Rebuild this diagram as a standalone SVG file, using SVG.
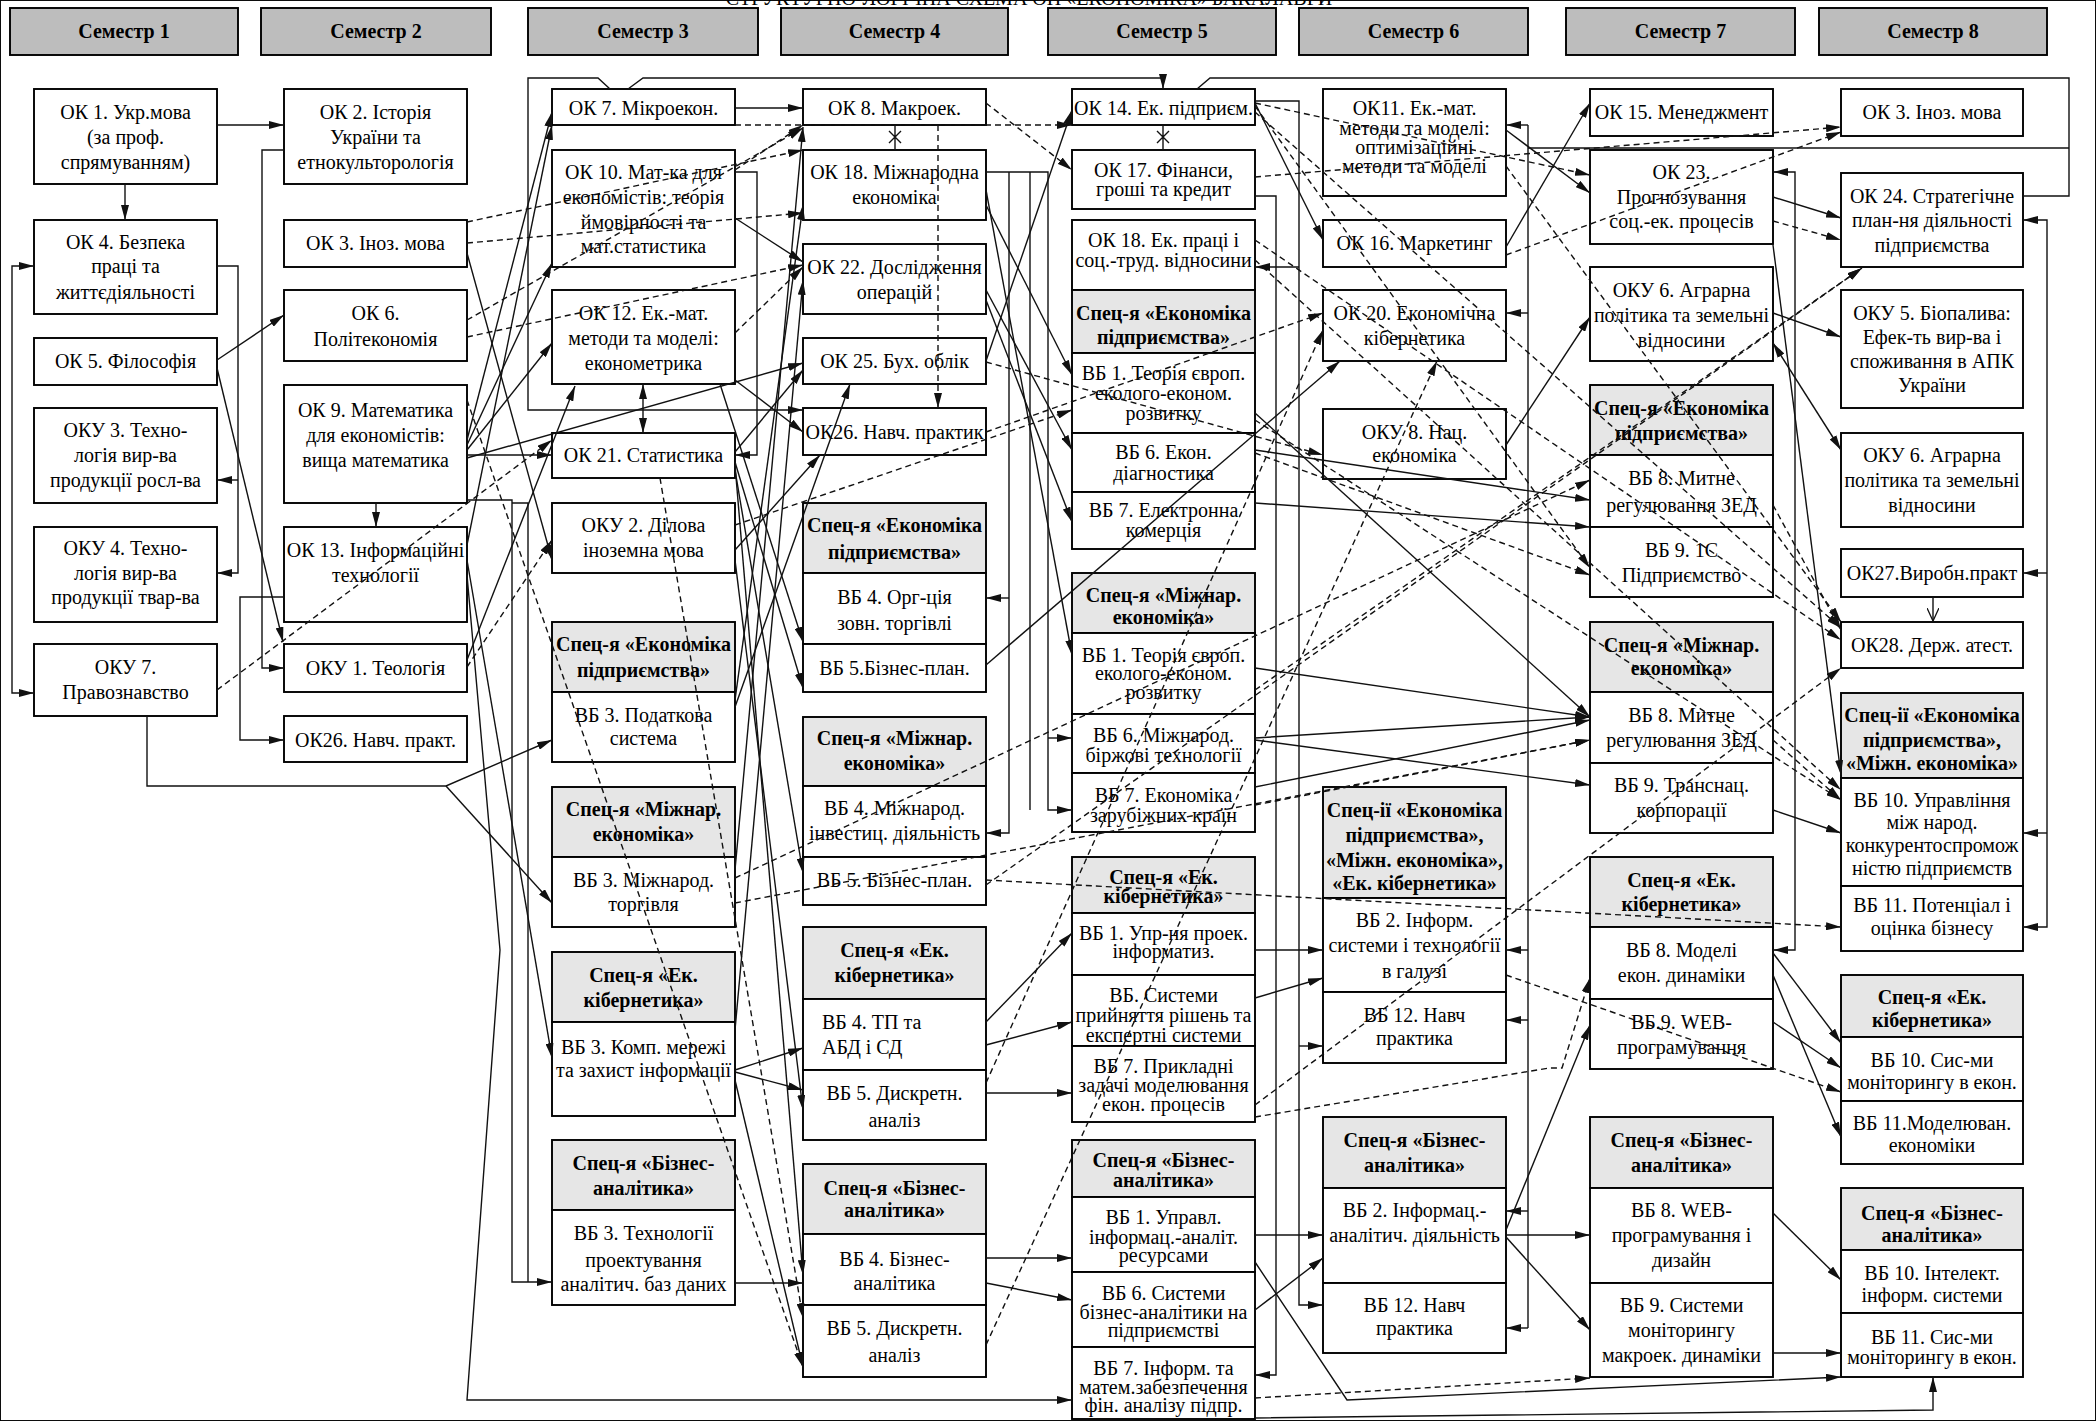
<svg xmlns="http://www.w3.org/2000/svg" width="2096" height="1421" viewBox="0 0 2096 1421" font-family="'Liberation Serif', serif">
<style>
rect{stroke:#000;stroke-width:1.9}
.hd rect{fill:#bdbdbd}
.n rect{fill:#fff}
.g rect{fill:#e6e6e6}
text{font-family:'Liberation Serif','Times New Roman',serif;font-size:20px;text-anchor:middle;dominant-baseline:central;fill:#000}
.hd text,.g text{font-weight:bold}
.c,.d,.cn,.db,.o{fill:none;stroke:#111;stroke-width:1.4}
.c,.d{marker-end:url(#a)}
.db{marker-end:url(#a);marker-start:url(#a)}
.d{stroke-dasharray:6 4}
.o{marker-end:url(#v)}
</style>
<defs>
<marker id="a" viewBox="0 0 15 8" refX="15" refY="4" markerWidth="15" markerHeight="8" markerUnits="userSpaceOnUse" orient="auto-start-reverse"><path d="M0,0 L15,4 L0,8 z" fill="#111"/></marker>
<marker id="v" viewBox="0 0 14 12" refX="13" refY="6" markerWidth="14" markerHeight="12" markerUnits="userSpaceOnUse" orient="auto"><path d="M0,0 L13,6 L0,12" fill="none" stroke="#111" stroke-width="1.3"/></marker>
</defs>
<rect x="0" y="0" width="2096" height="1421" fill="#fff" stroke="none"/>
<text x="1029" y="5" style="dominant-baseline:alphabetic">СТРУКТУРНО-ЛОГІЧНА СХЕМА ОП «ЕКОНОМІКА» БАКАЛАВРИ</text>

<g id="headers">
<g id="sem1" class="hd"><rect x="10" y="8" width="228" height="47"/><text x="124" y="31">Семестр 1</text></g>
<g id="sem2" class="hd"><rect x="261" y="8" width="230" height="47"/><text x="376" y="31">Семестр 2</text></g>
<g id="sem3" class="hd"><rect x="528" y="8" width="230" height="47"/><text x="643" y="31">Семестр 3</text></g>
<g id="sem4" class="hd"><rect x="781" y="8" width="227" height="47"/><text x="894.5" y="31">Семестр 4</text></g>
<g id="sem5" class="hd"><rect x="1048" y="8" width="228" height="47"/><text x="1162" y="31">Семестр 5</text></g>
<g id="sem6" class="hd"><rect x="1299" y="8" width="229" height="47"/><text x="1413.5" y="31">Семестр 6</text></g>
<g id="sem7" class="hd"><rect x="1566" y="8" width="229" height="47"/><text x="1680.5" y="31">Семестр 7</text></g>
<g id="sem8" class="hd"><rect x="1819" y="8" width="228" height="47"/><text x="1933" y="31">Семестр 8</text></g>
</g>

<g id="nodes">
<g id="ok1" class="n"><rect x="34" y="89" width="183" height="95"/><text x="125.5" y="112">ОК 1. Укр.мова</text><text x="125.5" y="137">(за проф.</text><text x="125.5" y="162">спрямуванням)</text></g>
<g id="ok4" class="n"><rect x="34" y="220" width="183" height="94"/><text x="125.5" y="242">ОК 4. Безпека</text><text x="125.5" y="266">праці та</text><text x="125.5" y="292">життєдіяльності</text></g>
<g id="ok5" class="n"><rect x="34" y="338" width="183" height="47"/><text x="125.5" y="361">ОК 5. Філософія</text></g>
<g id="oku3" class="n"><rect x="34" y="408" width="183" height="95"/><text x="125.5" y="430">ОКУ 3. Техно-</text><text x="125.5" y="455">логія вир-ва</text><text x="125.5" y="480">продукції  росл-ва</text></g>
<g id="oku4" class="n"><rect x="34" y="527" width="183" height="95"/><text x="125.5" y="548">ОКУ 4. Техно-</text><text x="125.5" y="573">логія вир-ва</text><text x="125.5" y="597">продукції  твар-ва</text></g>
<g id="oku7" class="n"><rect x="34" y="644" width="183" height="72"/><text x="125.5" y="667">ОКУ 7.</text><text x="125.5" y="692">Правознавство</text></g>
<g id="ok2" class="n"><rect x="284" y="89" width="183" height="95"/><text x="375.5" y="112">ОК 2. Історія</text><text x="375.5" y="137">України та</text><text x="375.5" y="162">етнокульторологія</text></g>
<g id="ok3a" class="n"><rect x="284" y="220" width="183" height="47"/><text x="375.5" y="243">ОК 3. Іноз. мова</text></g>
<g id="ok6" class="n"><rect x="284" y="290" width="183" height="71"/><text x="375.5" y="313">ОК 6.</text><text x="375.5" y="339">Політекономія</text></g>
<g id="ok9" class="n"><rect x="284" y="385" width="183" height="118"/><text x="375.5" y="410">ОК 9. Математика</text><text x="375.5" y="435">для економістів:</text><text x="375.5" y="460">вища математика</text></g>
<g id="ok13" class="n"><rect x="284" y="527" width="183" height="95"/><text x="375.5" y="550">ОК 13. Інформаційні</text><text x="375.5" y="575">технології</text></g>
<g id="oku1" class="n"><rect x="284" y="644" width="183" height="48"/><text x="375.5" y="668">ОКУ 1. Теологія</text></g>
<g id="ok26a" class="n"><rect x="284" y="716" width="183" height="46"/><text x="375.5" y="740">ОК26. Навч. практ.</text></g>
<g id="ok7" class="n"><rect x="552" y="89" width="183" height="36"/><text x="643.5" y="108">ОК 7. Мікроекон.</text></g>
<g id="ok10" class="n"><rect x="552" y="150" width="183" height="117"/><text x="643.5" y="172">ОК 10. Мат-ка для</text><text x="643.5" y="197">економістів: теорія</text><text x="643.5" y="222">ймовірності та</text><text x="643.5" y="246">мат.статистика</text></g>
<g id="ok12" class="n"><rect x="552" y="290" width="183" height="94"/><text x="643.5" y="313">ОК 12. Ек.-мат.</text><text x="643.5" y="338">методи та моделі:</text><text x="643.5" y="363">економетрика</text></g>
<g id="ok21" class="n"><rect x="552" y="433" width="183" height="45"/><text x="643.5" y="455">ОК 21. Статистика</text></g>
<g id="oku2" class="n"><rect x="552" y="503" width="183" height="70"/><text x="643.5" y="525">ОКУ 2. Ділова</text><text x="643.5" y="550">іноземна мова</text></g>
<g id="s3a" class="g"><rect x="552" y="622" width="183" height="70"/><text x="643.5" y="644">Спец-я «Економіка</text><text x="643.5" y="670">підприємства»</text></g>
<g id="vb3a" class="n"><rect x="552" y="692" width="183" height="70"/><text x="643.5" y="715">ВБ 3. Податкова</text><text x="643.5" y="738">система</text></g>
<g id="s3b" class="g"><rect x="552" y="787" width="183" height="70"/><text x="643.5" y="809">Спец-я «Міжнар.</text><text x="643.5" y="834">економіка»</text></g>
<g id="vb3b" class="n"><rect x="552" y="857" width="183" height="70"/><text x="643.5" y="880">ВБ 3. Міжнарод.</text><text x="643.5" y="904">торгівля</text></g>
<g id="s3c" class="g"><rect x="552" y="952" width="183" height="70"/><text x="643.5" y="975">Спец-я «Ек.</text><text x="643.5" y="1000">кібернетика»</text></g>
<g id="vb3c" class="n"><rect x="552" y="1022" width="183" height="94"/><text x="643.5" y="1047">ВБ 3. Комп. мережі</text><text x="643.5" y="1070">та захист інформації</text></g>
<g id="s3d" class="g"><rect x="552" y="1140" width="183" height="70"/><text x="643.5" y="1163">Спец-я «Бізнес-</text><text x="643.5" y="1188">аналітика»</text></g>
<g id="vb3d" class="n"><rect x="552" y="1210" width="183" height="95"/><text x="643.5" y="1233">ВБ 3. Технології</text><text x="643.5" y="1260">проектування</text><text x="643.5" y="1284">аналітич. баз даних</text></g>
<g id="ok8" class="n"><rect x="803" y="89" width="183" height="36"/><text x="894.5" y="108">ОК 8. Макроек.</text></g>
<g id="ok18a" class="n"><rect x="803" y="150" width="183" height="70"/><text x="894.5" y="172">ОК 18. Міжнародна</text><text x="894.5" y="197">економіка</text></g>
<g id="ok22" class="n"><rect x="803" y="244" width="183" height="70"/><text x="894.5" y="267">ОК 22. Дослідження</text><text x="894.5" y="292">операцій</text></g>
<g id="ok25" class="n"><rect x="803" y="338" width="183" height="46"/><text x="894.5" y="361">ОК 25. Бух. облік</text></g>
<g id="ok26b" class="n"><rect x="803" y="408" width="183" height="47"/><text x="894.5" y="432">ОК26. Навч. практик</text></g>
<g id="s4a" class="g"><rect x="803" y="503" width="183" height="70"/><text x="894.5" y="525">Спец-я «Економіка</text><text x="894.5" y="552">підприємства»</text></g>
<g id="vb4a" class="n"><rect x="803" y="573" width="183" height="71"/><text x="894.5" y="597">ВБ 4. Орг-ція</text><text x="894.5" y="623">зовн. торгівлі</text></g>
<g id="vb5a" class="n"><rect x="803" y="644" width="183" height="48"/><text x="894.5" y="668">ВБ 5.Бізнес-план.</text></g>
<g id="s4b" class="g"><rect x="803" y="717" width="183" height="69"/><text x="894.5" y="738">Спец-я «Міжнар.</text><text x="894.5" y="763">економіка»</text></g>
<g id="vb4b" class="n"><rect x="803" y="786" width="183" height="71"/><text x="894.5" y="808">ВБ 4. Міжнарод.</text><text x="894.5" y="833">інвестиц. діяльність</text></g>
<g id="vb5b" class="n"><rect x="803" y="857" width="183" height="48"/><text x="894.5" y="880">ВБ 5. Бізнес-план.</text></g>
<g id="s4c" class="g"><rect x="803" y="927" width="183" height="72"/><text x="894.5" y="950">Спец-я «Ек.</text><text x="894.5" y="975">кібернетика»</text></g>
<g id="vb4c" class="n"><rect x="803" y="999" width="183" height="71"/><text x="822" y="1022" style="text-anchor:start">ВБ 4. ТП та</text><text x="822" y="1047" style="text-anchor:start">АБД і СД</text></g>
<g id="vb5c" class="n"><rect x="803" y="1070" width="183" height="70"/><text x="894.5" y="1093">ВБ 5. Дискретн.</text><text x="894.5" y="1120">аналіз</text></g>
<g id="s4d" class="g"><rect x="803" y="1164" width="183" height="70"/><text x="894.5" y="1188">Спец-я «Бізнес-</text><text x="894.5" y="1210">аналітика»</text></g>
<g id="vb4d" class="n"><rect x="803" y="1234" width="183" height="71"/><text x="894.5" y="1259">ВБ 4. Бізнес-</text><text x="894.5" y="1283">аналітика</text></g>
<g id="vb5d" class="n"><rect x="803" y="1305" width="183" height="72"/><text x="894.5" y="1328">ВБ 5. Дискретн.</text><text x="894.5" y="1355">аналіз</text></g>
<g id="ok14" class="n"><rect x="1072" y="89" width="183" height="36"/><text x="1163.5" y="108">ОК 14. Ек. підприєм.</text></g>
<g id="ok17" class="n"><rect x="1072" y="150" width="183" height="59"/><text x="1163.5" y="170">ОК 17. Фінанси,</text><text x="1163.5" y="189">гроші та кредит</text></g>
<g id="ok18b" class="n"><rect x="1072" y="220" width="183" height="70"/><text x="1163.5" y="240">ОК 18. Ек. праці і</text><text x="1163.5" y="260">соц.-труд. відносини</text></g>
<g id="s5a" class="g"><rect x="1072" y="290" width="183" height="63"/><text x="1163.5" y="313">Спец-я «Економіка</text><text x="1163.5" y="337">підприємства»</text></g>
<g id="vb1a" class="n"><rect x="1072" y="353" width="183" height="80"/><text x="1163.5" y="373">ВБ 1. Теорія європ.</text><text x="1163.5" y="393">еколого-економ.</text><text x="1163.5" y="413">розвитку</text></g>
<g id="vb6a" class="n"><rect x="1072" y="433" width="183" height="59"/><text x="1163.5" y="452">ВБ 6. Екон.</text><text x="1163.5" y="473">діагностика</text></g>
<g id="vb7a" class="n"><rect x="1072" y="492" width="183" height="57"/><text x="1163.5" y="510">ВБ 7. Електронна</text><text x="1163.5" y="530">комерція</text></g>
<g id="s5b" class="g"><rect x="1072" y="573" width="183" height="60"/><text x="1163.5" y="595">Спец-я «Міжнар.</text><text x="1163.5" y="617">економіка»</text></g>
<g id="vb1b" class="n"><rect x="1072" y="633" width="183" height="81"/><text x="1163.5" y="655">ВБ 1. Теорія європ.</text><text x="1163.5" y="673">еколого-економ.</text><text x="1163.5" y="692">розвитку</text></g>
<g id="vb6b" class="n"><rect x="1072" y="714" width="183" height="59"/><text x="1163.5" y="735">ВБ 6. Міжнарод.</text><text x="1163.5" y="755">біржові технології</text></g>
<g id="vb7b" class="n"><rect x="1072" y="773" width="183" height="59"/><text x="1163.5" y="795">ВБ 7. Економіка</text><text x="1163.5" y="815">зарубіжних країн</text></g>
<g id="s5c" class="g"><rect x="1072" y="857" width="183" height="56"/><text x="1163.5" y="877">Спец-я «Ек.</text><text x="1163.5" y="896">кібернетика»</text></g>
<g id="vb1c" class="n"><rect x="1072" y="913" width="183" height="62"/><text x="1163.5" y="933">ВБ 1. Упр-ня проек.</text><text x="1163.5" y="951">інформатиз.</text></g>
<g id="vbsc" class="n"><rect x="1072" y="975" width="183" height="71"/><text x="1163.5" y="995">ВБ. Системи</text><text x="1163.5" y="1015">прийняття рішень та</text><text x="1163.5" y="1035">експертні системи</text></g>
<g id="vb7c" class="n"><rect x="1072" y="1046" width="183" height="76"/><text x="1163.5" y="1066">ВБ 7. Прикладні</text><text x="1163.5" y="1085">задачі моделювання</text><text x="1163.5" y="1104">екон. процесів</text></g>
<g id="s5d" class="g"><rect x="1072" y="1140" width="183" height="57"/><text x="1163.5" y="1160">Спец-я «Бізнес-</text><text x="1163.5" y="1180">аналітика»</text></g>
<g id="vb1d" class="n"><rect x="1072" y="1197" width="183" height="75"/><text x="1163.5" y="1217">ВБ 1. Управл.</text><text x="1163.5" y="1237">інформац.-аналіт.</text><text x="1163.5" y="1255">ресурсами</text></g>
<g id="vb6d" class="n"><rect x="1072" y="1272" width="183" height="75"/><text x="1163.5" y="1293">ВБ 6. Системи</text><text x="1163.5" y="1312">бізнес-аналітики на</text><text x="1163.5" y="1330">підприємстві</text></g>
<g id="vb7d" class="n"><rect x="1072" y="1347" width="183" height="72"/><text x="1163.5" y="1368">ВБ 7. Інформ. та</text><text x="1163.5" y="1387">матем.забезпечення</text><text x="1163.5" y="1405">фін. аналізу підпр.</text></g>
<g id="ok11" class="n"><rect x="1323" y="89" width="183" height="107"/><text x="1414.5" y="108">ОК11. Ек.-мат.</text><text x="1414.5" y="128">методи та моделі:</text><text x="1414.5" y="147">оптимізаційні</text><text x="1414.5" y="166">методи та моделі</text></g>
<g id="ok16" class="n"><rect x="1323" y="220" width="183" height="47"/><text x="1414.5" y="243">ОК 16. Маркетинг</text></g>
<g id="ok20" class="n"><rect x="1323" y="290" width="183" height="71"/><text x="1414.5" y="313">ОК 20. Економічна</text><text x="1414.5" y="338">кібернетика</text></g>
<g id="oku8" class="n"><rect x="1323" y="409" width="183" height="70"/><text x="1414.5" y="432">ОКУ 8. Нац.</text><text x="1414.5" y="455">економіка</text></g>
<g id="s6a" class="g"><rect x="1323" y="787" width="183" height="111"/><text x="1414.5" y="810">Спец-ії «Економіка</text><text x="1414.5" y="835">підприємства»,</text><text x="1414.5" y="860">«Міжн. економіка»,</text><text x="1414.5" y="883">«Ек. кібернетика»</text></g>
<g id="vb2a" class="n"><rect x="1323" y="898" width="183" height="94"/><text x="1414.5" y="920">ВБ 2. Інформ.</text><text x="1414.5" y="945">системи і технології</text><text x="1414.5" y="971">в галузі</text></g>
<g id="vb12a" class="n"><rect x="1323" y="992" width="183" height="71"/><text x="1414.5" y="1015">ВБ 12. Навч</text><text x="1414.5" y="1038">практика</text></g>
<g id="s6b" class="g"><rect x="1323" y="1117" width="183" height="71"/><text x="1414.5" y="1140">Спец-я «Бізнес-</text><text x="1414.5" y="1165">аналітика»</text></g>
<g id="vb2b" class="n"><rect x="1323" y="1188" width="183" height="95"/><text x="1414.5" y="1210">ВБ 2. Інформац.-</text><text x="1414.5" y="1235">аналітич. діяльність</text></g>
<g id="vb12b" class="n"><rect x="1323" y="1283" width="183" height="70"/><text x="1414.5" y="1305">ВБ 12. Навч</text><text x="1414.5" y="1328">практика</text></g>
<g id="ok15" class="n"><rect x="1590" y="89" width="183" height="47"/><text x="1681.5" y="112">ОК 15. Менеджмент</text></g>
<g id="ok23" class="n"><rect x="1590" y="150" width="183" height="94"/><text x="1681.5" y="172">ОК 23.</text><text x="1681.5" y="197">Прогнозування</text><text x="1681.5" y="221">соц.-ек. процесів</text></g>
<g id="oku6a" class="n"><rect x="1590" y="267" width="183" height="94"/><text x="1681.5" y="290">ОКУ 6. Аграрна</text><text x="1681.5" y="315">політика та земельні</text><text x="1681.5" y="340">відносини</text></g>
<g id="s7a" class="g"><rect x="1590" y="385" width="183" height="70"/><text x="1681.5" y="408">Спец-я «Економіка</text><text x="1681.5" y="433">підприємства»</text></g>
<g id="vb8a" class="n"><rect x="1590" y="455" width="183" height="72"/><text x="1681.5" y="478">ВБ 8. Митне</text><text x="1681.5" y="505">регулювання ЗЕД</text></g>
<g id="vb9a" class="n"><rect x="1590" y="527" width="183" height="70"/><text x="1681.5" y="550">ВБ 9. 1С</text><text x="1681.5" y="575">Підприємство</text></g>
<g id="s7b" class="g"><rect x="1590" y="622" width="183" height="70"/><text x="1681.5" y="645">Спец-я «Міжнар.</text><text x="1681.5" y="668">економіка»</text></g>
<g id="vb8b" class="n"><rect x="1590" y="692" width="183" height="71"/><text x="1681.5" y="715">ВБ 8. Митне</text><text x="1681.5" y="740">регулювання ЗЕД</text></g>
<g id="vb9b" class="n"><rect x="1590" y="763" width="183" height="70"/><text x="1681.5" y="785">ВБ 9. Транснац.</text><text x="1681.5" y="810">корпорації</text></g>
<g id="s7c" class="g"><rect x="1590" y="857" width="183" height="70"/><text x="1681.5" y="880">Спец-я «Ек.</text><text x="1681.5" y="904">кібернетика»</text></g>
<g id="vb8c" class="n"><rect x="1590" y="927" width="183" height="72"/><text x="1681.5" y="950">ВБ 8. Моделі</text><text x="1681.5" y="975">екон. динаміки</text></g>
<g id="vb9c" class="n"><rect x="1590" y="999" width="183" height="70"/><text x="1681.5" y="1022">ВБ.9. WEB-</text><text x="1681.5" y="1047">програмування</text></g>
<g id="s7d" class="g"><rect x="1590" y="1117" width="183" height="71"/><text x="1681.5" y="1140">Спец-я «Бізнес-</text><text x="1681.5" y="1165">аналітика»</text></g>
<g id="vb8d" class="n"><rect x="1590" y="1188" width="183" height="95"/><text x="1681.5" y="1210">ВБ 8. WEB-</text><text x="1681.5" y="1235">програмування і</text><text x="1681.5" y="1260">дизайн</text></g>
<g id="vb9d" class="n"><rect x="1590" y="1283" width="183" height="94"/><text x="1681.5" y="1305">ВБ 9. Системи</text><text x="1681.5" y="1330">моніторингу</text><text x="1681.5" y="1355">макроек. динаміки</text></g>
<g id="ok3b" class="n"><rect x="1841" y="89" width="182" height="47"/><text x="1932" y="112">ОК 3. Іноз. мова</text></g>
<g id="ok24" class="n"><rect x="1841" y="173" width="182" height="94"/><text x="1932" y="196">ОК 24. Стратегічне</text><text x="1932" y="220">план-ня діяльності</text><text x="1932" y="245">підприємства</text></g>
<g id="oku5" class="n"><rect x="1841" y="290" width="182" height="118"/><text x="1932" y="313">ОКУ 5. Біопалива:</text><text x="1932" y="337">Ефек-ть вир-ва і</text><text x="1932" y="361">споживання в АПК</text><text x="1932" y="385">України</text></g>
<g id="oku6b" class="n"><rect x="1841" y="433" width="182" height="94"/><text x="1932" y="455">ОКУ 6. Аграрна</text><text x="1932" y="480">політика та земельні</text><text x="1932" y="505">відносини</text></g>
<g id="ok27" class="n"><rect x="1841" y="549" width="182" height="48"/><text x="1932" y="573">ОК27.Виробн.практ</text></g>
<g id="ok28" class="n"><rect x="1841" y="622" width="182" height="46"/><text x="1932" y="645">ОК28. Держ. атест.</text></g>
<g id="s8a" class="g"><rect x="1841" y="693" width="182" height="85"/><text x="1932" y="715">Спец-ії «Економіка</text><text x="1932" y="740">підприємства»,</text><text x="1932" y="763">«Міжн. економіка»</text></g>
<g id="vb10a" class="n"><rect x="1841" y="778" width="182" height="108"/><text x="1932" y="800">ВБ 10. Управління</text><text x="1932" y="822">між народ.</text><text x="1932" y="845">конкурентоспромож</text><text x="1932" y="868">ністю підприємств</text></g>
<g id="vb11a" class="n"><rect x="1841" y="886" width="182" height="65"/><text x="1932" y="905">ВБ 11. Потенціал і</text><text x="1932" y="928">оцінка бізнесу</text></g>
<g id="s8b" class="g"><rect x="1841" y="975" width="182" height="62"/><text x="1932" y="997">Спец-я «Ек.</text><text x="1932" y="1020">кібернетика»</text></g>
<g id="vb10b" class="n"><rect x="1841" y="1037" width="182" height="64"/><text x="1932" y="1060">ВБ 10. Сис-ми</text><text x="1932" y="1082">моніторингу в екон.</text></g>
<g id="vb11b" class="n"><rect x="1841" y="1101" width="182" height="63"/><text x="1932" y="1123">ВБ 11.Моделюван.</text><text x="1932" y="1145">економіки</text></g>
<g id="s8c" class="g"><rect x="1841" y="1188" width="182" height="62"/><text x="1932" y="1213">Спец-я «Бізнес-</text><text x="1932" y="1235">аналітика»</text></g>
<g id="vb10c" class="n"><rect x="1841" y="1250" width="182" height="63"/><text x="1932" y="1273">ВБ 10. Інтелект.</text><text x="1932" y="1295">інформ. системи</text></g>
<g id="vb11c" class="n"><rect x="1841" y="1313" width="182" height="64"/><text x="1932" y="1337">ВБ 11. Сис-ми</text><text x="1932" y="1357">моніторингу в екон.</text></g>
</g>

<g id="connectors">
<path class="c" d="M610,89 L598,78 L528,78 L528,410 L803,410"/>
<path class="c" d="M628,89 L643,78 L1163,78 L1163,89"/>
<path class="cn" d="M1197,89 L1210,78 L2069,78 L2069,196 L2023,196"/>
<path class="cn" d="M1528,148 L2069,148"/>
<path class="cn" d="M895,125 V150 M889,131 L901,143 M901,131 L889,143"/>
<path class="cn" d="M1163,125 V150 M1157,131 L1169,143 M1169,131 L1157,143"/>
<path class="c" d="M217,125 H284"/>
<path class="c" d="M125,184 V220"/>
<path class="c" d="M12,480 V266 H34"/>
<path class="c" d="M12,480 V693 H34"/>
<path class="c" d="M217,266 H238 V573 H217"/>
<path class="c" d="M238,480 H217"/>
<path class="c" d="M217,360 L284,315"/>
<path class="c" d="M217,368 L283,642"/>
<path class="c" d="M284,150 H262 V668 H284"/>
<path class="c" d="M376,503 V527"/>
<path class="c" d="M284,597 H240 V740 H284"/>
<path class="c" d="M147,716 V786 H446 L552,740"/>
<path class="c" d="M446,786 L552,903"/>
<path class="d" d="M217,690 L552,440"/>
<path class="d" d="M467,222 L803,150"/>
<path class="d" d="M467,243 L803,213"/>
<path class="c" d="M467,253 L552,560"/>
<path class="d" d="M467,337 L803,265"/>
<path class="d" d="M467,320 L803,128"/>
<path class="c" d="M467,440 L552,112"/>
<path class="c" d="M467,445 L552,263"/>
<path class="c" d="M467,450 L552,343"/>
<path class="c" d="M467,455 L552,455"/>
<path class="c" d="M467,458 L803,363"/>
<path class="c" d="M467,545 L552,125"/>
<path class="c" d="M467,560 L552,1058"/>
<path class="c" d="M467,660 L575,386"/>
<path class="d" d="M467,667 L552,540"/>
<path class="d" d="M467,400 L803,1367"/>
<path class="c" d="M467,500 H512 V1282 H552"/>
<path class="cn" d="M512,503 H528 V1282"/>
<path class="c" d="M467,575 L500,950 L467,1400 H1072"/>
<path class="c" d="M735,108 H803"/>
<path class="d" d="M735,125 H1072"/>
<path class="d" d="M735,170 L803,125"/>
<path class="c" d="M735,218 L803,262"/>
<path class="c" d="M735,172 H757 V455 H735"/>
<path class="db" d="M643,384 V433"/>
<path class="d" d="M735,333 L803,267"/>
<path class="c" d="M735,380 L803,432"/>
<path class="c" d="M735,452 L803,370"/>
<path class="c" d="M735,550 L820,455"/>
<path class="d" d="M735,525 L1072,410"/>
<path class="c" d="M735,707 L850,384"/>
<path class="d" d="M735,878 L1590,480"/>
<path class="d" d="M735,903 L1590,740"/>
<path class="c" d="M735,700 L803,205"/>
<path class="c" d="M735,870 L803,127"/>
<path class="c" d="M735,1030 L803,280"/>
<path class="c" d="M720,384 L803,642"/>
<path class="c" d="M735,462 L803,688"/>
<path class="c" d="M735,470 L803,873"/>
<path class="c" d="M735,465 L803,1275"/>
<path class="c" d="M735,560 L803,1110"/>
<path class="d" d="M660,478 L803,1318"/>
<path class="c" d="M735,1070 L803,1048"/>
<path class="c" d="M735,1072 L803,1090"/>
<path class="c" d="M735,1080 L803,1367"/>
<path class="c" d="M735,1283 H803"/>
<path class="d" d="M938,125 V408"/>
<path class="d" d="M986,103 L1072,170"/>
<path class="c" d="M986,172 H1048 V810 H1072"/>
<path class="c" d="M1009,172 V833 H986"/>
<path class="c" d="M1009,598 H986"/>
<path class="cn" d="M1030,172 V810"/>
<path class="c" d="M1048,738 H1072"/>
<path class="c" d="M986,190 L1072,655"/>
<path class="c" d="M986,205 L1072,375"/>
<path class="c" d="M986,290 L1072,450"/>
<path class="c" d="M986,300 L1072,522"/>
<path class="c" d="M986,361 L1072,110"/>
<path class="d" d="M986,362 L1323,455"/>
<path class="d" d="M986,432 L1323,313"/>
<path class="c" d="M986,665 L1340,361"/>
<path class="d" d="M986,880 L1841,927"/>
<path class="d" d="M986,885 L1862,268"/>
<path class="c" d="M986,1045 L1072,1022"/>
<path class="c" d="M986,1022 L1072,933"/>
<path class="c" d="M986,1093 H1072"/>
<path class="c" d="M986,1258 H1072"/>
<path class="c" d="M986,1283 L1072,1300"/>
<path class="d" d="M986,1345 L1437,361"/>
<path class="d" d="M986,1083 L1323,330"/>
<path class="c" d="M1255,103 L1323,240"/>
<path class="c" d="M1255,101 H1299 V1305 H1323"/>
<path class="c" d="M1299,267 H1255"/>
<path class="c" d="M1299,1046 H1323"/>
<path class="c" d="M1255,196 H1276 V1375 H1255"/>
<path class="d" d="M1255,103 L1590,175"/>
<path class="d" d="M1255,106 L1590,568"/>
<path class="d" d="M1255,177 L1841,127"/>
<path class="d" d="M1255,112 L1841,628"/>
<path class="d" d="M1255,240 L1841,640"/>
<path class="d" d="M1255,260 L1841,790"/>
<path class="d" d="M1255,420 L1841,800"/>
<path class="c" d="M1255,503 L1590,527"/>
<path class="c" d="M1255,450 L1590,500"/>
<path class="c" d="M1255,413 L1590,717"/>
<path class="d" d="M1255,453 L1590,575"/>
<path class="c" d="M1255,668 L1590,717"/>
<path class="c" d="M1255,738 L1590,717"/>
<path class="c" d="M1255,740 L1590,785"/>
<path class="c" d="M1255,787 L1590,720"/>
<path class="d" d="M1255,805 L1590,740"/>
<path class="d" d="M1255,690 L1862,268"/>
<path class="d" d="M1255,1105 L1841,668"/>
<path class="c" d="M1255,950 H1323"/>
<path class="c" d="M1255,998 L1323,978"/>
<path class="d" d="M1255,1117 L1549,1068 L1562,1068 L1590,978"/>
<path class="c" d="M1255,1235 H1323"/>
<path class="c" d="M1255,1310 L1323,1258"/>
<path class="c" d="M1255,1262 L1347,1400 L1841,1377"/>
<path class="d" d="M1255,1398 L1590,1378"/>
<path class="c" d="M1255,1418 L1933,1410 L1933,1377"/>
<path class="c" d="M1506,130 L1590,193"/>
<path class="c" d="M1506,247 L1590,103"/>
<path class="c" d="M1506,445 L1590,317"/>
<path class="cn" d="M1528,125 V1328"/>
<path class="c" d="M1528,125 H1506"/>
<path class="c" d="M1528,313 H1506"/>
<path class="c" d="M1528,950 H1506"/>
<path class="c" d="M1528,1020 H1506"/>
<path class="c" d="M1528,1211 H1506"/>
<path class="c" d="M1528,1328 H1506"/>
<path class="d" d="M1506,255 L1841,132"/>
<path class="d" d="M1506,166 L1841,622"/>
<path class="d" d="M1506,975 L1841,1092"/>
<path class="c" d="M1506,1235 H1590"/>
<path class="c" d="M1506,1237 L1590,1330"/>
<path class="c" d="M1506,1230 L1590,1025"/>
<path class="c" d="M1773,197 L1841,218"/>
<path class="d" d="M1773,221 L1841,240"/>
<path class="c" d="M1773,313 L1841,337"/>
<path class="db" d="M1773,343 L1841,450"/>
<path class="c" d="M1773,245 L1841,775"/>
<path class="c" d="M1795,560 V172 H1773"/>
<path class="c" d="M1795,560 V950 H1773"/>
<path class="c" d="M2047,575 V220 H2023"/>
<path class="c" d="M2047,575 V927 H2023"/>
<path class="c" d="M2047,573 H2023"/>
<path class="c" d="M2047,833 H2023"/>
<path class="o" d="M1933,597 V621"/>
<path class="d" d="M1773,505 L1841,630"/>
<path class="d" d="M1773,740 L1841,800"/>
<path class="c" d="M1773,810 L1841,833"/>
<path class="c" d="M1773,953 L1841,1043"/>
<path class="c" d="M1773,975 L1841,1137"/>
<path class="c" d="M1773,1022 L1841,1068"/>
<path class="c" d="M1773,1213 L1841,1280"/>
<path class="c" d="M1773,1353 H1841"/>
</g>
</svg>
